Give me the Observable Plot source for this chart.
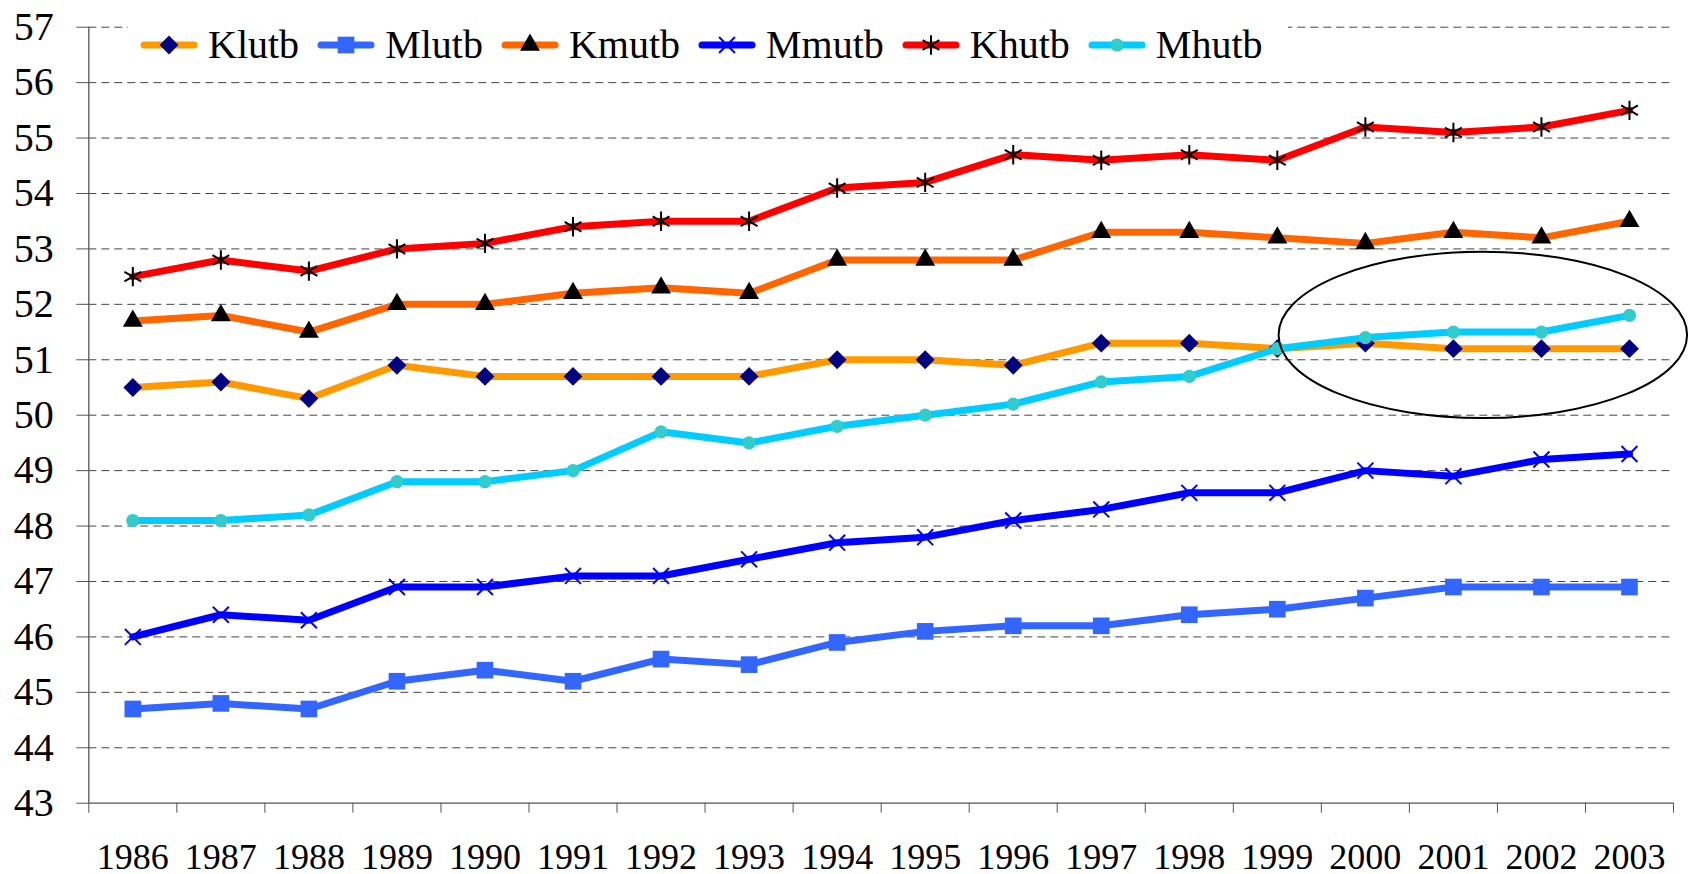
<!DOCTYPE html>
<html>
<head>
<meta charset="utf-8">
<script src="https://cdn.jsdelivr.net/npm/d3@7"></script>
<script src="https://cdn.jsdelivr.net/npm/@observablehq/plot@0.6"></script>
<style>
  html, body { margin: 0; padding: 0; background: #fff; overflow: hidden; }
  #wrap { position: relative; width: 1692px; height: 874px; font-family: "Liberation Serif", "DejaVu Serif", serif; }
  #chart svg, #chart svg text { font-family: "Liberation Serif", "DejaVu Serif", serif !important; }
  #legend { position: absolute; left: 128px; top: 12px; width: 1160px; height: 66px; background: #fff;
            display: flex; align-items: center; gap: 18px; padding-left: 12px; box-sizing: border-box; }
  .item { display: flex; align-items: center; gap: 10px; font-size: 40px; color: #000; line-height: 1;
          font-family: "Liberation Serif", "DejaVu Serif", serif; }
  .item svg { display: block; }
</style>
</head>
<body>
<div id="wrap"><div id="chart"></div><div id="legend"></div></div>
<script>
// ---- data ----
const years = [1986,1987,1988,1989,1990,1991,1992,1993,1994,1995,1996,1997,1998,1999,2000,2001,2002,2003];
const seriesNames = ["Klutb","Mlutb","Kmutb","Mmutb","Khutb","Mhutb"];
const Klutb = [50.5,50.6,50.3,50.9,50.7,50.7,50.7,50.7,51.0,51.0,50.9,51.3,51.3,51.2,51.3,51.2,51.2,51.2];
const Mlutb = [44.7,44.8,44.7,45.2,45.4,45.2,45.6,45.5,45.9,46.1,46.2,46.2,46.4,46.5,46.7,46.9,46.9,46.9];
const Kmutb = [51.7,51.8,51.5,52.0,52.0,52.2,52.3,52.2,52.8,52.8,52.8,53.3,53.3,53.2,53.1,53.3,53.2,53.5];
const Mmutb = [46.0,46.4,46.3,46.9,46.9,47.1,47.1,47.4,47.7,47.8,48.1,48.3,48.6,48.6,49.0,48.9,49.2,49.3];
const Khutb = [52.5,52.8,52.6,53.0,53.1,53.4,53.5,53.5,54.1,54.2,54.7,54.6,54.7,54.6,55.2,55.1,55.2,55.5];
const Mhutb = [48.1,48.1,48.2,48.8,48.8,49.0,49.7,49.5,49.8,50.0,50.2,50.6,50.7,51.2,51.4,51.5,51.5,51.8];
const yTicks = [43,44,45,46,47,48,49,50,51,52,53,54,55,56,57];
const xBoundaries = [1985.5,1986.5,1987.5,1988.5,1989.5,1990.5,1991.5,1992.5,1993.5,1994.5,1995.5,1996.5,1997.5,1998.5,1999.5,2000.5,2001.5,2002.5,2003.5];
// annotation ellipse (data units)
const ellipseCenter = [2001.34, 51.44];
const ellipseRadii = [2.32, 1.5];

// ---- styles ----
const styles = {
  Klutb: {line: "#FF9900", mark: "#000080", symbol: "diamond2", r: 8.5, kind: "fill"},
  Mlutb: {line: "#3366FF", mark: "#3366FF", symbol: "square", r: 9.4, kind: "fill"},
  Kmutb: {line: "#FF6600", mark: "#000000", symbol: "triangle", r: 7.4, kind: "fill"},
  Mmutb: {line: "#0000FF", mark: "#0000FF", symbol: "times", r: 7.3, kind: "stroke"},
  Khutb: {line: "#FF0000", mark: "#000000", symbol: "asterisk", r: 9.2, kind: "stroke"},
  Mhutb: {line: "#00CCFF", mark: "#33CCCC", symbol: "circle", r: 6.6, kind: "fill"}
};
const values = {Klutb, Mlutb, Kmutb, Mmutb, Khutb, Mhutb};
const table = name => years.map((year, i) => ({year, value: values[name][i], series: name}));

const seriesMarks = seriesNames.flatMap(name => {
  const s = styles[name];
  const data = table(name);
  const dotOpts = {x: "year", y: "value", symbol: () => s.symbol, r: s.r};
  if (s.kind === "fill") { dotOpts.fill = s.mark; dotOpts.stroke = "none"; }
  else { dotOpts.stroke = s.mark; dotOpts.strokeWidth = 2; dotOpts.fill = "none"; }
  return [
    Plot.line(data, {x: "year", y: "value", stroke: s.line, strokeWidth: 7, strokeLinejoin: "round", strokeLinecap: "round"}),
    Plot.dot(data, dotOpts)
  ];
});

const ellipseMark = (index, scales) => {
  const x = scales.x, y = scales.y;
  const cx = x(ellipseCenter[0]), cy = y(ellipseCenter[1]);
  const rx = Math.abs(x(ellipseCenter[0] + ellipseRadii[0]) - cx);
  const ry = Math.abs(y(ellipseCenter[1] + ellipseRadii[1]) - cy);
  const e = document.createElementNS("http://www.w3.org/2000/svg", "ellipse");
  e.setAttribute("cx", cx); e.setAttribute("cy", cy);
  e.setAttribute("rx", rx); e.setAttribute("ry", ry);
  e.setAttribute("fill", "none"); e.setAttribute("stroke", "#000"); e.setAttribute("stroke-width", 2);
  return e;
};

const chart = Plot.plot({
  width: 1692,
  height: 874,
  marginLeft: 88.3,
  marginRight: 19,
  marginTop: 26.7,
  marginBottom: 71.3,
  style: {fontFamily: "'Liberation Serif', 'DejaVu Serif', serif", background: "#fff", overflow: "visible"},
  x: {type: "linear", domain: [1985.5, 2003.5], axis: null},
  y: {type: "linear", domain: [43, 57], axis: null},
  marks: [
    Plot.ruleY(yTicks.filter(d => d > 43), {stroke: "#444", strokeWidth: 1, strokeDasharray: "8,5"}),
    Plot.ruleX([1985.5], {stroke: "#555", strokeWidth: 1.3}),
    Plot.ruleY([43], {stroke: "#555", strokeWidth: 1.3}),
    Plot.axisY({ticks: yTicks, label: null, tickSize: 12, tickPadding: 23, fontSize: 40, stroke: "#555", fill: "#000", tickFormat: d => String(d)}),
    Plot.axisX({ticks: xBoundaries, label: null, tickSize: 10, tickFormat: () => "", stroke: "#555"}),
    Plot.axisX({ticks: years, label: null, tickSize: 0, tickPadding: 40, fontSize: 36, fill: "#000", tickFormat: d => String(d)}),
    ...seriesMarks,
    ellipseMark
  ]
});
document.getElementById("chart").appendChild(chart);

// ---- legend ----
const legend = d3.select("#legend");
seriesNames.forEach(name => {
  const s = styles[name];
  const item = legend.append("div").attr("class", "item");
  const svg = item.append("svg").attr("width", 58).attr("height", 26);
  svg.append("line").attr("x1", 4).attr("x2", 54).attr("y1", 13).attr("y2", 13)
    .attr("stroke", s.line).attr("stroke-width", 7).attr("stroke-linecap", "round");
  const symMap = {diamond2: d3.symbolDiamond2, square: d3.symbolSquare, triangle: d3.symbolTriangle,
                  times: d3.symbolTimes, asterisk: d3.symbolAsterisk, circle: d3.symbolCircle};
  const p = svg.append("path").attr("transform", "translate(29,13)")
    .attr("d", d3.symbol(symMap[s.symbol], Math.PI * s.r * s.r)());
  if (s.kind === "fill") p.attr("fill", s.mark);
  else p.attr("fill", "none").attr("stroke", s.mark).attr("stroke-width", 2);
  item.append("span").text(name);
});
</script>
</body>
</html>
